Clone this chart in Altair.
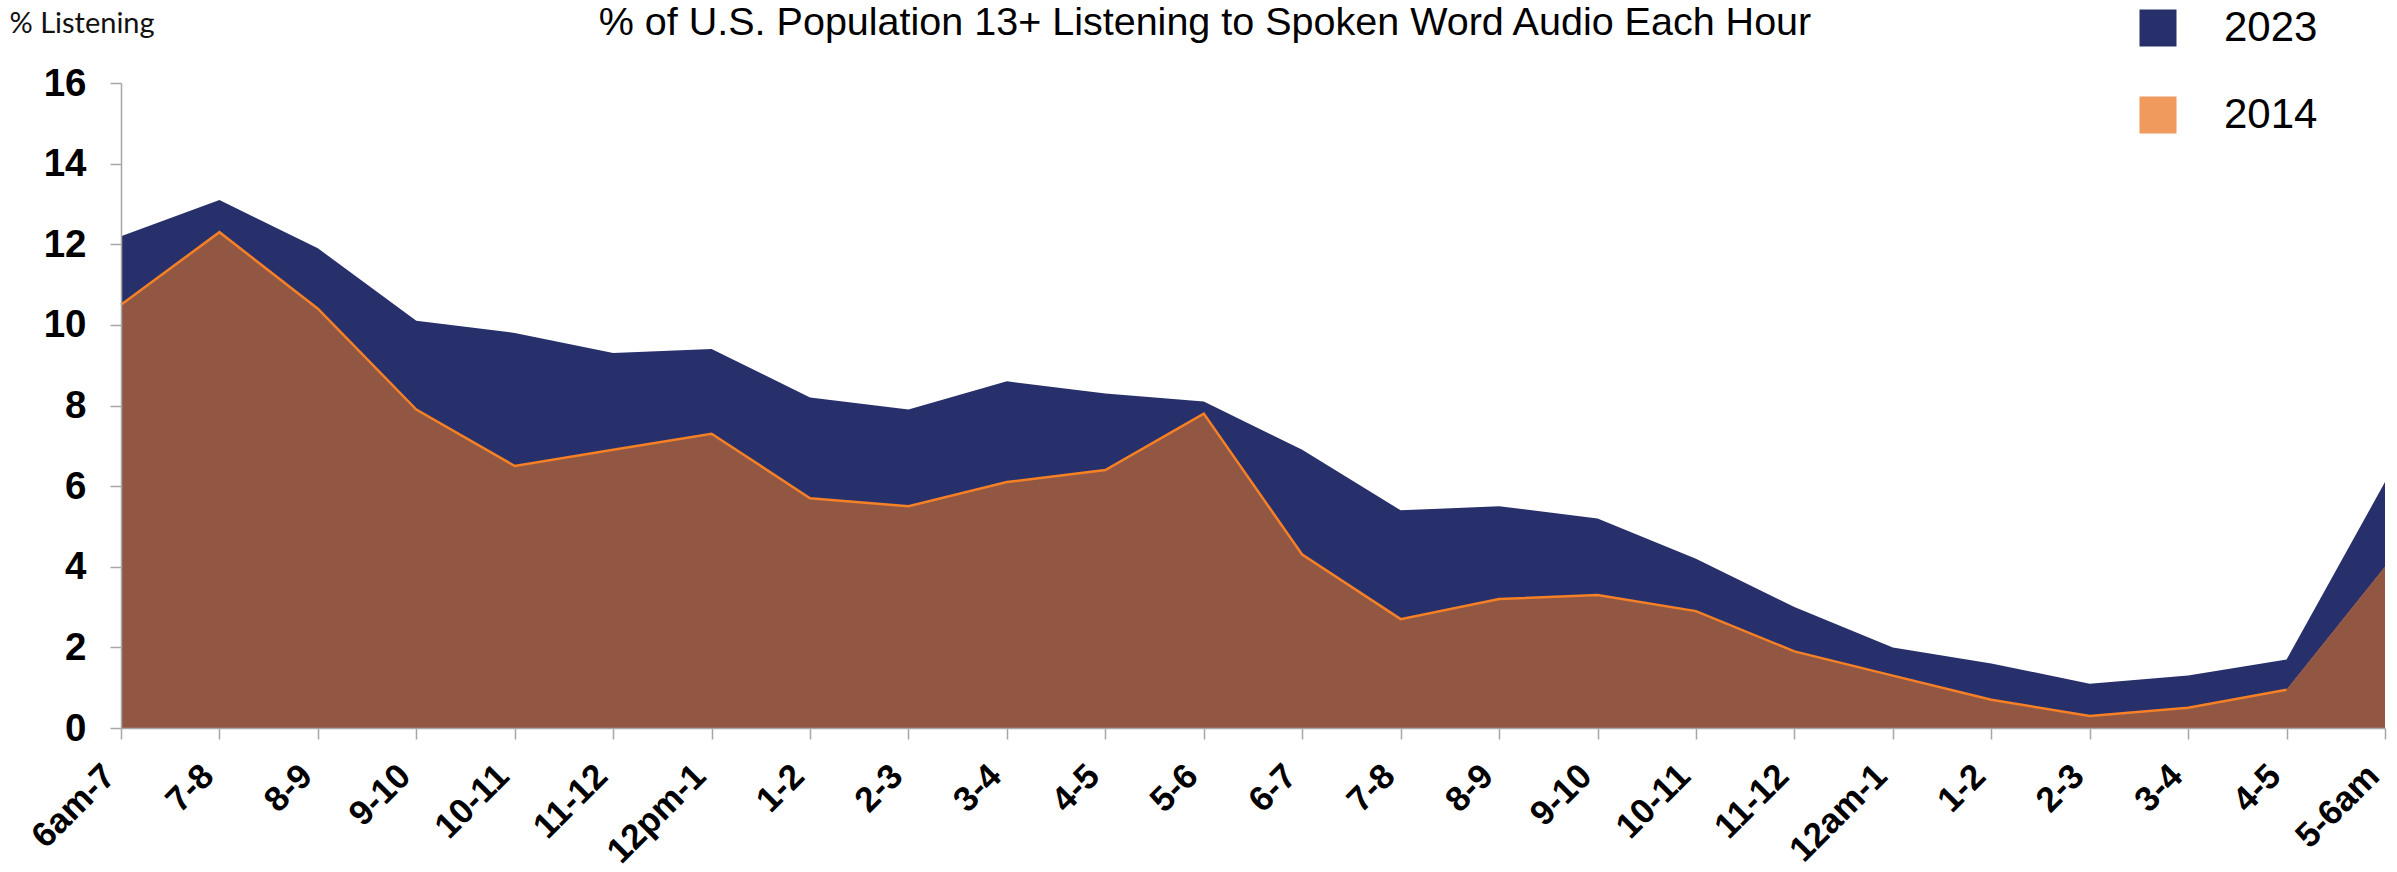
import altair as alt
import pandas as pd

# Hour-of-day slots, 6am through 6am the next day
hours = ["6am-7", "7-8", "8-9", "9-10", "10-11", "11-12", "12pm-1", "1-2", "2-3", "3-4", "4-5", "5-6",
         "6-7", "7-8", "8-9", "9-10", "10-11", "11-12", "12am-1", "1-2", "2-3", "3-4", "4-5", "5-6am"]

# % of U.S. population 13+ listening to spoken word audio in each hour
listening_2023 = [12.2, 13.1, 11.9, 10.1, 9.8, 9.3, 9.4, 8.2, 7.9, 8.6, 8.3, 8.1,
                  6.9, 5.4, 5.5, 5.2, 4.2, 3.0, 2.0, 1.6, 1.1, 1.3, 1.7, 6.1]
listening_2014 = [10.5, 12.3, 10.4, 7.9, 6.5, 6.9, 7.3, 5.7, 5.5, 6.1, 6.4, 7.8,
                  4.3, 2.7, 3.2, 3.3, 2.9, 1.9, 1.3, 0.7, 0.3, 0.5, 0.95, 4.0]

series = ["2023", "2014"]
y_ticks = [0, 2, 4, 6, 8, 10, 12, 14, 16]

NAVY = "#27306b"
KEY_ORANGE = "#f09a5e"
BROWN = "#915743"
LINE_ORANGE = "#f58025"
GRAY = "#a6a6a6"
FONT = "Liberation Sans"

rows = []
for name, values in zip(series, [listening_2023, listening_2014]):
    for i, (h, v) in enumerate(zip(hours, values)):
        rows.append({"slot": i, "hour": h, "series": name, "pct": v})
df = pd.DataFrame(rows)

label_lookup = "[" + ",".join(f"'{h}'" for h in hours) + "][datum.value]"

x_enc = alt.X(
    "slot:Q",
    scale=alt.Scale(domain=[0, len(hours) - 1], nice=False, zero=False),
    axis=alt.Axis(
        values=list(range(len(hours))),
        labelExpr=label_lookup,
        title=None,
        labelAngle=315,
        labelAlign="right",
        labelBaseline="middle",
        labelFont=FONT,
        labelFontSize=35,
        labelFontWeight="bold",
        labelColor="black",
        labelPadding=31,
        labelOffset=-12,
        labelOverlap=False,
        labelFlush=False,
        labelBound=False,
        tickSize=11,
        tickColor=GRAY,
        tickWidth=1.5,
        domainColor=GRAY,
        domainWidth=1.5,
        grid=False,
        zindex=1,
    ),
)

y_enc = alt.Y(
    "pct:Q",
    stack=None,
    scale=alt.Scale(domain=[0, 16], nice=False),
    axis=alt.Axis(
        values=y_ticks,
        title="% Listening",
        titleAngle=0,
        titleAlign="left",
        titleBaseline="alphabetic",
        titleX=-112,
        titleY=-51,
        titleFont="Lato",
        titleFontSize=29,
        titleFontWeight="normal",
        titleColor="#111111",
        labelFont=FONT,
        labelFontSize=38.5,
        labelFontWeight="bold",
        labelColor="black",
        labelPadding=24,
        tickSize=11,
        tickColor=GRAY,
        tickWidth=1.5,
        domainColor=GRAY,
        domainWidth=1.5,
        grid=False,
        zindex=1,
    ),
)

color_enc = alt.Color(
    "series:N",
    scale=alt.Scale(domain=series, range=[NAVY, KEY_ORANGE]),
    legend=alt.Legend(
        title=None,
        orient="none",
        legendX=2016,
        legendY=-76,
        direction="vertical",
        symbolType="square",
        symbolSize=1369,
        symbolStrokeWidth=0,
        symbolOpacity=1,
        labelFont=FONT,
        labelFontSize=42,
        labelColor="black",
        labelOffset=45,
        rowPadding=45,
        padding=0,
    ),
)

base = alt.Chart(df).encode(x=x_enc, y=y_enc)

area_2023 = base.transform_filter(alt.datum.series == "2023").mark_area(opacity=1).encode(color=color_enc)
key_2014 = base.transform_filter(alt.datum.series == "2014").mark_area(opacity=1).encode(color=color_enc)
fill_2014 = base.transform_filter(alt.datum.series == "2014").mark_area(color=BROWN, opacity=1)
edge_2014 = (
    base.transform_filter((alt.datum.series == "2014") & (alt.datum.slot <= len(hours) - 2))
    .mark_line(color=LINE_ORANGE, strokeWidth=2.5)
)

chart = (
    alt.layer(area_2023, key_2014, fill_2014, edge_2014)
    .properties(
        width=2264,
        height=645,
        autosize=alt.AutoSizeParams(type="none"),
        padding={"left": 121, "top": 83, "right": 12, "bottom": 144},
        background="white",
        title=alt.TitleParams(
            text="% of U.S. Population 13+ Listening to Spoken Word Audio Each Hour",
            anchor="middle",
            frame="group",
            dx=-48,
            dy=67,
            font=FONT,
            fontSize=39.5,
            fontWeight="normal",
            color="black",
            baseline="alphabetic",
            offset=0,
        ),
    )
    .configure_view(stroke=None)
)

chart.save("out.html", embed_options={"renderer": "svg", "actions": False})
